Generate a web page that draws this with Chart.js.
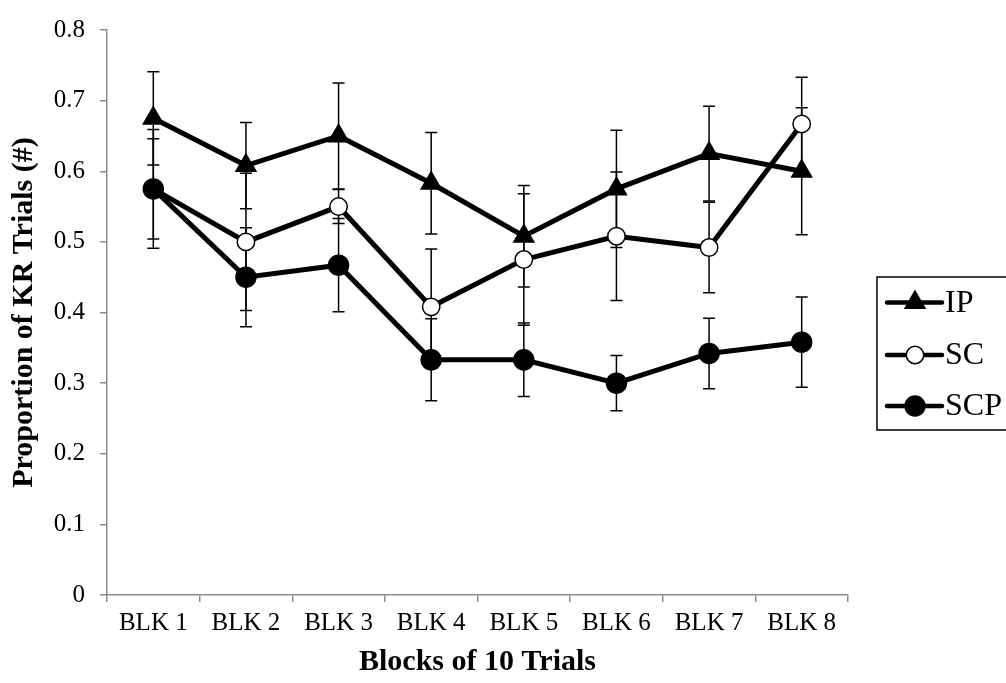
<!DOCTYPE html>
<html>
<head>
<meta charset="utf-8">
<script src="https://cdn.jsdelivr.net/npm/chart.js@4.4.1/dist/chart.umd.min.js"></script>
<style>
  html, body { margin: 0; padding: 0; background: #fff; }
  #wrap { width: 1006px; height: 683px; }
</style>
</head>
<body>
<div id="wrap"><canvas id="c" width="1006" height="683"></canvas></div>
<script>
const categories = ['BLK 1', 'BLK 2', 'BLK 3', 'BLK 4', 'BLK 5', 'BLK 6', 'BLK 7', 'BLK 8'];
const yTickLabels = ['0', '0.1', '0.2', '0.3', '0.4', '0.5', '0.6', '0.7', '0.8'];

const ipValues  = [0.675, 0.608, 0.650, 0.583, 0.508, 0.575, 0.625, 0.600];
const ipErrors  = [0.066, 0.061, 0.075, 0.072, 0.072, 0.083, 0.067, 0.090];
const scValues  = [0.575, 0.500, 0.550, 0.408, 0.475, 0.508, 0.492, 0.667];
const scErrors  = [0.084, 0.097, 0.024, 0.082, 0.093, 0.091, 0.064, 0.066];
const scpValues = [0.575, 0.450, 0.467, 0.333, 0.333, 0.300, 0.342, 0.358];
const scpErrors = [0.071, 0.070, 0.066, 0.058, 0.052, 0.039, 0.050, 0.064];

const FONT = '"Liberation Serif", "Times New Roman", serif';

const errorBars = {
  id: 'errorBars',
  beforeDatasetsDraw(chart) {
    const {ctx, scales: {x, y}} = chart;
    ctx.save();
    ctx.strokeStyle = '#000';
    ctx.lineWidth = 1.5;
    chart.data.datasets.forEach(ds => {
      ds.data.forEach((v, i) => {
        const e = ds.errors[i];
        const px = x.getPixelForValue(i);
        const top = y.getPixelForValue(v + e);
        const bot = y.getPixelForValue(v - e);
        ctx.beginPath();
        ctx.moveTo(px, top); ctx.lineTo(px, bot);
        ctx.moveTo(px - 6, top); ctx.lineTo(px + 6, top);
        ctx.moveTo(px - 6, bot); ctx.lineTo(px + 6, bot);
        ctx.stroke();
      });
    });
    ctx.restore();
  }
};

const boxLegend = {
  id: 'boxLegend',
  afterDraw(chart) {
    const ctx = chart.ctx;
    const bx = 877, by = 277, bw = 200, bh = 153;
    ctx.save();
    ctx.strokeStyle = '#000';
    ctx.lineWidth = 1.5;
    ctx.strokeRect(bx, by, bw, bh);
    const order = [2, 1, 0];
    const ys = [302.5, 355, 406];
    order.forEach((di, k) => {
      const ds = chart.data.datasets[di];
      const yy = ys[k];
      ctx.beginPath();
      ctx.lineCap = 'round';
      ctx.lineWidth = 4.5;
      ctx.strokeStyle = '#000';
      ctx.moveTo(887, yy); ctx.lineTo(942, yy);
      ctx.stroke();
      ctx.fillStyle = ds.pointBackgroundColor;
      ctx.strokeStyle = '#000';
      ctx.lineWidth = ds.pointBorderWidth;
      Chart.helpers.drawPoint(ctx, {
        pointStyle: ds.pointStyle, rotation: 0, radius: ds.pointRadius, borderWidth: ds.pointBorderWidth
      }, 915, yy);
      ctx.fillStyle = '#000';
      ctx.font = '32px ' + FONT;
      ctx.textBaseline = 'middle';
      ctx.textAlign = 'left';
      ctx.fillText(ds.label, 945, yy + 1);
    });
    ctx.restore();
  }
};

const baseLine = { borderColor: '#000', borderWidth: 5, tension: 0, pointBorderColor: '#000', pointBorderWidth: 1.5 };

new Chart(document.getElementById('c'), {
  type: 'line',
  data: {
    labels: categories,
    datasets: [
      Object.assign({ label: 'SCP', data: scpValues, errors: scpErrors, pointStyle: 'circle', pointRadius: 10, pointBackgroundColor: '#000', order: 0 }, baseLine),
      Object.assign({ label: 'SC',  data: scValues,  errors: scErrors,  pointStyle: 'circle', pointRadius: 8.7, pointBackgroundColor: '#fff', order: 1 }, baseLine),
      Object.assign({ label: 'IP',  data: ipValues,  errors: ipErrors,  pointStyle: 'triangle', pointRadius: 11.5, pointBackgroundColor: '#000', order: 2 }, baseLine)
    ]
  },
  options: {
    responsive: false,
    animation: false,
    events: [],
    layout: { padding: { left: 0, right: 158, top: 18, bottom: 0 } },
    plugins: { legend: { display: false }, tooltip: { enabled: false } },
    scales: {
      x: {
        offset: true,
        grid: { display: true, offset: true, drawOnChartArea: false, tickLength: 7, color: '#8c8c8c', lineWidth: 1.5 },
        border: { color: '#8c8c8c', width: 1.5 },
        ticks: { font: { family: FONT, size: 25 }, color: '#000', padding: 6, maxRotation: 0, autoSkip: false },
        title: { display: true, text: 'Blocks of 10 Trials', color: '#000', font: { family: FONT, size: 30, weight: 'bold' }, padding: { top: 0, bottom: 3 } },
        afterFit(s) { s.height = 88; }
      },
      y: {
        min: 0, max: 0.8,
        grid: { display: true, drawOnChartArea: false, tickLength: 7, color: '#8c8c8c', lineWidth: 1.5 },
        border: { color: '#8c8c8c', width: 1.5 },
        ticks: { stepSize: 0.1, font: { family: FONT, size: 25 }, color: '#000', padding: 15,
          callback: (v, i) => yTickLabels[i] },
        title: { display: true, text: 'Proportion of KR Trials (#)', color: '#000', font: { family: FONT, size: 30, weight: 'bold' }, padding: { top: 6, bottom: 0 } },
        afterFit(s) { s.width = 107; }
      }
    }
  },
  plugins: [errorBars, boxLegend]
});
</script>
</body>
</html>
